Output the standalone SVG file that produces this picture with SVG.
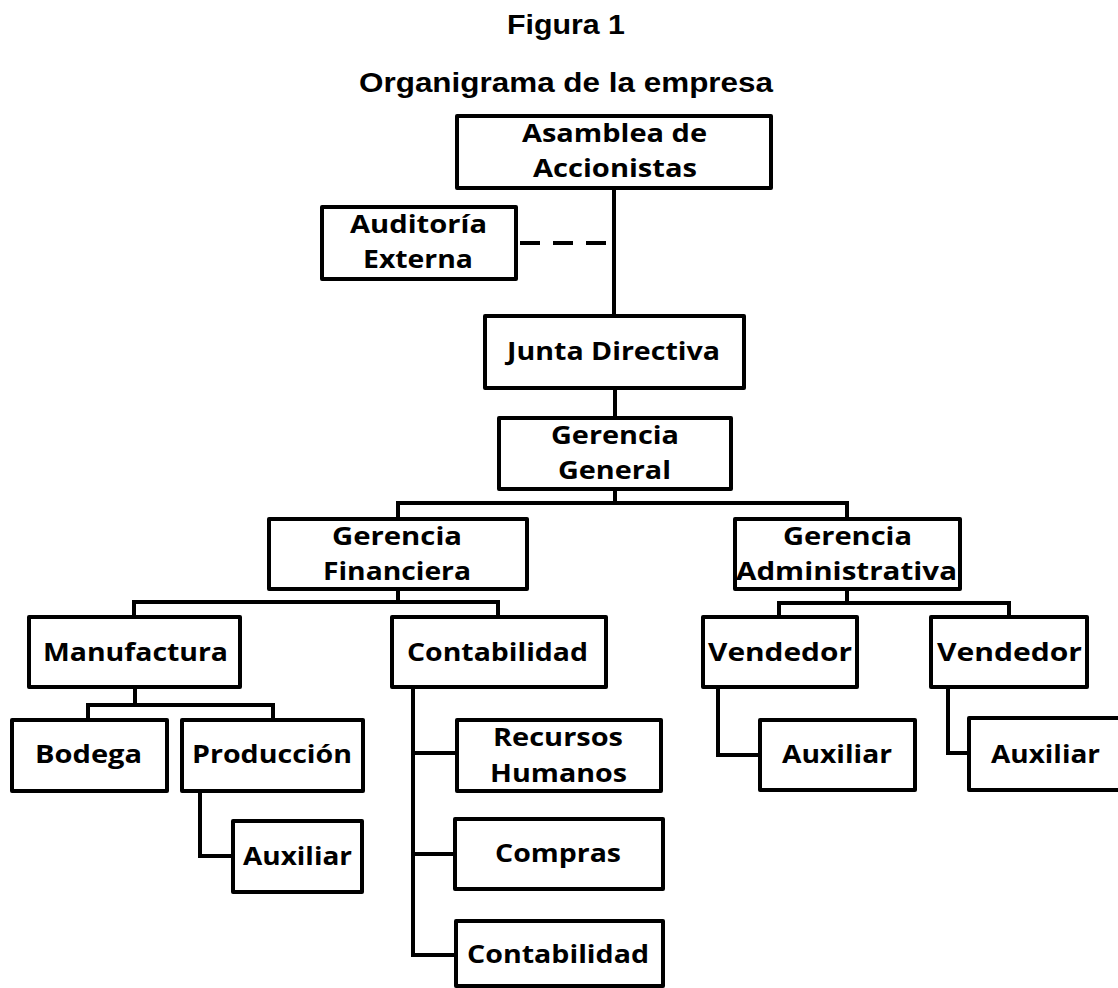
<svg xmlns="http://www.w3.org/2000/svg" width="1118" height="988" viewBox="0 0 1118 988">
<style>
.box{fill:#fff;stroke:#000;stroke-width:4;stroke-linejoin:round}
.t{font-family:"Open Sans","Liberation Sans",sans-serif;font-weight:bold;font-size:25px;text-anchor:middle;fill:#000}
.title{font-family:"Liberation Sans",Arial,sans-serif;font-weight:bold;font-size:28px;text-anchor:middle;fill:#000}
.c{fill:none;stroke:#000;stroke-width:4;stroke-linejoin:miter}
</style>
<rect width="1118" height="988" fill="#fff"/>
<g id="title">
<text class="title" x="566" y="34" textLength="118" lengthAdjust="spacingAndGlyphs">Figura 1</text>
<text class="title" x="566" y="92" textLength="414" lengthAdjust="spacingAndGlyphs">Organigrama de la empresa</text>
</g>
<g id="connectors">
<path class="c" d="M614 188V316"/>
<path class="c" d="M520 243H610" stroke-dasharray="20 13"/>
<path class="c" d="M615 388V418"/>
<path class="c" d="M615 489V503M398 519V503H847V519"/>
<path class="c" d="M398 589V602M134 617V602H498V617"/>
<path class="c" d="M135 687V705M88 720V705H273V720"/>
<path class="c" d="M200 791V856H233"/>
<path class="c" d="M413 687V955H456M413 753H457M413 854H455"/>
<path class="c" d="M847 589V603M779 617V603H1009V617"/>
<path class="c" d="M718 687V755H760"/>
<path class="c" d="M948 687V753H969"/>
</g>
<g id="asamblea"><rect class="box" x="457" y="116" width="314" height="72"/>
<text class="t" x="614.5" y="142" textLength="185" lengthAdjust="spacingAndGlyphs">Asamblea de</text>
<text class="t" x="615" y="177" textLength="164" lengthAdjust="spacingAndGlyphs">Accionistas</text></g>
<g id="auditoria"><rect class="box" x="322" y="207" width="194" height="72"/>
<text class="t" x="418.5" y="233" textLength="137" lengthAdjust="spacingAndGlyphs">Auditoría</text>
<text class="t" x="418" y="268" textLength="110" lengthAdjust="spacingAndGlyphs">Externa</text></g>
<g id="junta"><rect class="box" x="485" y="316" width="259" height="72"/>
<text class="t" x="613.5" y="360" textLength="213" lengthAdjust="spacingAndGlyphs">Junta Directiva</text></g>
<g id="gerencia-general"><rect class="box" x="499" y="418" width="232" height="71"/>
<text class="t" x="615" y="444" textLength="128" lengthAdjust="spacingAndGlyphs">Gerencia</text>
<text class="t" x="614.5" y="479" textLength="113" lengthAdjust="spacingAndGlyphs">General</text></g>
<g id="gerencia-financiera"><rect class="box" x="269" y="519" width="258" height="70"/>
<text class="t" x="397" y="545" textLength="130" lengthAdjust="spacingAndGlyphs">Gerencia</text>
<text class="t" x="397" y="580" textLength="148" lengthAdjust="spacingAndGlyphs">Financiera</text></g>
<g id="gerencia-administrativa"><rect class="box" x="735" y="519" width="225" height="70"/>
<text class="t" x="847.5" y="545" textLength="129" lengthAdjust="spacingAndGlyphs">Gerencia</text>
<text class="t" x="846.5" y="580" textLength="221" lengthAdjust="spacingAndGlyphs">Administrativa</text></g>
<g id="manufactura"><rect class="box" x="29" y="617" width="211" height="70"/>
<text class="t" x="135.5" y="661" textLength="185" lengthAdjust="spacingAndGlyphs">Manufactura</text></g>
<g id="contabilidad"><rect class="box" x="392" y="617" width="214" height="70"/>
<text class="t" x="497.5" y="661" textLength="181" lengthAdjust="spacingAndGlyphs">Contabilidad</text></g>
<g id="vendedor-1"><rect class="box" x="703" y="617" width="154" height="70"/>
<text class="t" x="780" y="661" textLength="144" lengthAdjust="spacingAndGlyphs">Vendedor</text></g>
<g id="vendedor-2"><rect class="box" x="931" y="617" width="156" height="70"/>
<text class="t" x="1009.5" y="661" textLength="145" lengthAdjust="spacingAndGlyphs">Vendedor</text></g>
<g id="bodega"><rect class="box" x="12" y="720" width="155" height="71"/>
<text class="t" x="88.5" y="763" textLength="107" lengthAdjust="spacingAndGlyphs">Bodega</text></g>
<g id="produccion"><rect class="box" x="182" y="720" width="181" height="71"/>
<text class="t" x="272" y="763" textLength="160" lengthAdjust="spacingAndGlyphs">Producción</text></g>
<g id="auxiliar-produccion"><rect class="box" x="233" y="821" width="129" height="71"/>
<text class="t" x="297.5" y="865" textLength="109" lengthAdjust="spacingAndGlyphs">Auxiliar</text></g>
<g id="recursos-humanos"><rect class="box" x="457" y="720" width="204" height="71"/>
<text class="t" x="558" y="746" textLength="130" lengthAdjust="spacingAndGlyphs">Recursos</text>
<text class="t" x="558.5" y="782" textLength="137" lengthAdjust="spacingAndGlyphs">Humanos</text></g>
<g id="compras"><rect class="box" x="455" y="819" width="208" height="70"/>
<text class="t" x="558" y="862" textLength="126" lengthAdjust="spacingAndGlyphs">Compras</text></g>
<g id="contabilidad-2"><rect class="box" x="456" y="921" width="207" height="65"/>
<text class="t" x="558" y="963" textLength="182" lengthAdjust="spacingAndGlyphs">Contabilidad</text></g>
<g id="auxiliar-vendedor-1"><rect class="box" x="760" y="720" width="155" height="70"/>
<text class="t" x="837" y="763" textLength="110" lengthAdjust="spacingAndGlyphs">Auxiliar</text></g>
<g id="auxiliar-vendedor-2"><rect class="box" x="969" y="718" width="160" height="72"/>
<text class="t" x="1045.5" y="763" textLength="109" lengthAdjust="spacingAndGlyphs">Auxiliar</text></g>
</svg>
